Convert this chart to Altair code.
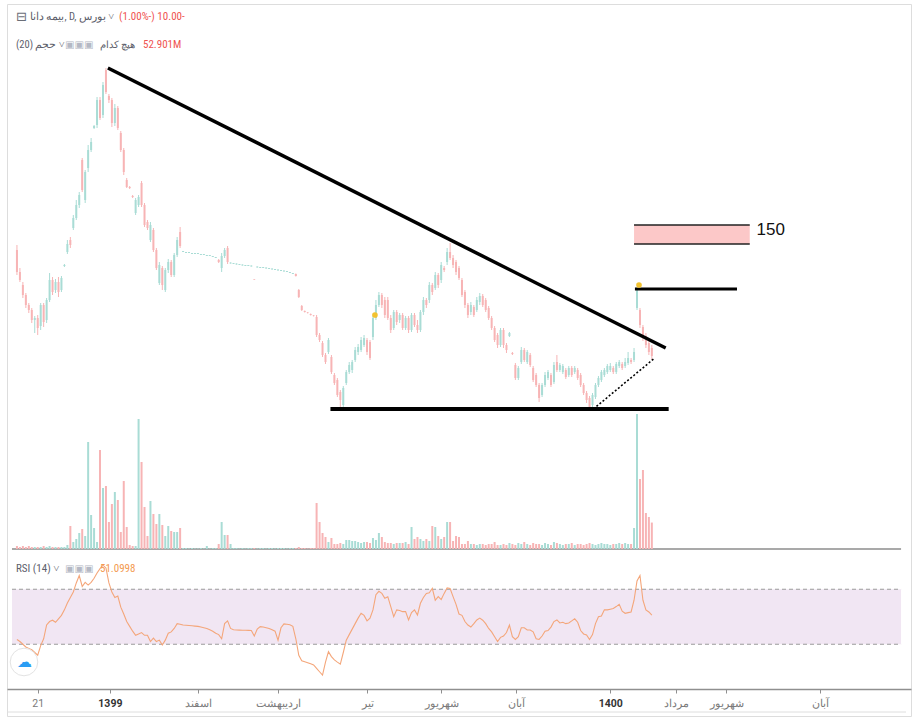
import altair as alt
import pandas as pd
import numpy as np

# ---------------- data (price units, one candle per trading day) ----------------
opens = [
    220, 198, 185, 175, 165, 160, 150, 152, 144, 165,
    150, 170, 190, 180, 188, 180, 204, 218, 230, 242,
    252, 265, 310, 270, 302, 320, 342, 345, 370, 355,
    400, 374, 370, 347, 362, 337, 320, 290, 283, 274,
    257, 265, 287, 265, 248, 230, 240, 220, 187, 202,
    180, 200, 208, 195, 215, 238, 218, 217, 217, 216,
    216, 216, 215, 215, 214, 214, 213, 212, 210, 202,
    214, 222, 206.5, 206, 205.5, 205, 204.5, 204, 204, 203.5,
    190.6, 202.5, 202, 202, 201.5, 201, 200.5, 200, 199.5, 199,
    198.5, 198, 197, 196, 196, 180, 164, 159, 157.5, 156,
    154.5, 153, 135, 127, 115, 118, 113, 95, 90, 78,
    65, 87, 98, 100, 110, 118, 120, 125, 130, 128,
    133, 152, 165, 175, 170, 170, 152, 142, 158, 150,
    155, 142, 152, 140, 155, 145, 140, 158, 170, 170,
    185, 182, 195, 190, 202, 208, 218, 212, 208, 202,
    190, 178, 165, 158, 163, 160, 168, 174, 170, 162,
    152, 142, 135, 125, 140, 125, 134, 117, 105, 92,
    108, 120, 108, 115, 102, 95, 85, 75, 85, 92,
    95, 88, 108, 100, 98, 100, 95, 102, 98, 100,
    95, 85, 77, 72, 65, 73, 85, 90, 95, 98,
    100, 102, 98, 104, 106, 104, 107, 110, 110, 162,
    160, 143, 134, 127, 122,
]
closes = [
    198, 190, 175, 165, 160, 150, 152, 142, 165, 148,
    170, 190, 178, 188, 178, 192, 205, 226, 225, 252,
    265, 275, 280, 298, 320, 328, 344, 370, 352, 385,
    378, 370, 347, 362, 342, 320, 298, 283, 282, 273,
    270, 273, 265, 245, 242, 245, 220, 202, 205, 185,
    200, 208, 195, 215, 230, 224, 219, 218, 218, 217,
    217, 217, 216, 216, 215, 215, 214, 213, 208, 214,
    220, 208, 207.5, 207, 206.5, 206, 205.5, 205, 205, 204.5,
    190, 203.5, 203, 203, 202.5, 202, 201.5, 201, 200.5, 200,
    199.5, 199, 198, 197, 194, 173, 160, 158, 157, 155,
    154, 135, 130, 115, 108, 130, 98, 87, 75, 70,
    82, 98, 105, 108, 120, 123, 130, 132, 118, 112,
    152, 165, 175, 165, 155, 152, 140, 158, 148, 155,
    142, 152, 140, 155, 145, 140, 158, 170, 165, 185,
    178, 195, 185, 205, 200, 218, 212, 205, 198, 192,
    175, 165, 155, 165, 155, 170, 174, 165, 160, 152,
    142, 130, 125, 140, 125, 120, 137, 116, 92, 102,
    120, 110, 118, 105, 90, 85, 72, 85, 95, 98,
    85, 105, 100, 105, 104, 93, 102, 95, 102, 92,
    85, 77, 70, 62, 75, 85, 92, 98, 100, 104,
    104, 98, 106, 108, 102, 108, 112, 108, 118, 180,
    145, 132, 125, 118, 114,
]
highs = [
    225, 202, 188, 177, 167, 162, 154, 155, 167, 167,
    172, 197, 193, 191, 193, 194, 206, 230, 233, 255,
    270, 278, 312, 300, 325, 332, 345, 373, 373, 388,
    402, 376, 372, 366, 364, 339, 322, 292, 284, 275,
    272, 275, 289, 267, 250, 248, 242, 222, 208, 204,
    202, 211, 210, 217, 233, 243, 219, 218, 218, 217,
    217, 217, 216, 216, 215, 215, 214, 213, 211, 217,
    222, 224, 207.5, 207, 206.5, 206, 205.5, 205, 205, 204.5,
    190.6, 203.5, 203, 203, 202.5, 202, 201.5, 201, 200.5, 200,
    199.5, 199, 198, 197, 196.5, 181, 165, 159.5, 158, 156.5,
    155, 155, 137, 129, 117, 132, 115, 97, 92, 80,
    84, 100, 108, 110, 123, 126, 133, 135, 132, 130,
    154, 170, 178, 177, 173, 173, 155, 160, 160, 157,
    157, 154, 154, 157, 157, 150, 160, 173, 172, 188,
    187, 198, 197, 208, 204, 222, 227, 215, 210, 204,
    192, 180, 167, 168, 165, 173, 177, 176, 172, 164,
    154, 144, 137, 142, 142, 127, 138, 118, 107, 104,
    123, 122, 120, 117, 104, 97, 87, 87, 98, 100,
    97, 108, 115, 107, 106, 102, 104, 104, 104, 102,
    97, 87, 79, 74, 77, 87, 94, 100, 102, 106,
    107, 104, 108, 110, 108, 112, 118, 112, 122, 182,
    162, 145, 137, 130, 125,
]
lows = [
    195, 188, 172, 162, 157, 147, 137, 135, 140, 143,
    147, 168, 175, 177, 173, 178, 203, 216, 222, 240,
    250, 262, 278, 267, 298, 318, 341, 342, 350, 352,
    376, 367, 343, 344, 340, 318, 295, 282, 281, 272,
    255, 263, 263, 243, 240, 228, 218, 200, 185, 180,
    178, 197, 193, 193, 213, 222, 218, 217, 217, 216,
    216, 216, 215, 215, 214, 214, 213, 212, 207, 198,
    212, 206, 206.5, 206, 205.5, 205, 204.5, 204, 204, 203.5,
    190, 202.5, 202, 202, 201.5, 201, 200.5, 200, 199.5, 199,
    198.5, 198, 197, 196, 193.5, 172, 159, 157.5, 156.5, 154.5,
    153.5, 133, 128, 113, 106, 116, 96, 85, 73, 62,
    61, 85, 96, 97, 108, 115, 118, 123, 115, 110,
    130, 150, 163, 162, 152, 150, 137, 140, 145, 147,
    140, 140, 137, 138, 143, 137, 138, 155, 162, 167,
    175, 180, 182, 187, 198, 205, 210, 202, 195, 190,
    173, 162, 152, 155, 153, 158, 165, 163, 158, 150,
    140, 128, 122, 123, 122, 117, 133, 115, 90, 90,
    106, 108, 106, 103, 88, 83, 68, 73, 83, 90,
    83, 86, 98, 98, 96, 91, 93, 93, 96, 90,
    83, 75, 67, 60, 60, 71, 83, 88, 93, 96,
    98, 96, 96, 102, 100, 102, 105, 106, 108, 160,
    142, 129, 122, 115, 110,
]
volumes = [  # millions
    6, 4, 6, 4, 6, 4, 4, 4, 4, 6,
    4, 6, 4, 4, 4, 4, 4, 8, 46, 14,
    20, 32, 40, 26, 214, 68, 42, 14, 198, 122,
    126, 54, 90, 114, 98, 34, 136, 44, 8, 6,
    6, 260, 174, 84, 26, 96, 70, 50, 70, 48,
    26, 46, 36, 34, 34, 42, 2, 2, 1, 2,
    1, 1, 2, 1, 6, 1, 2, 2, 10, 54,
    28, 28, 10, 2, 2, 1, 2, 1, 2, 2,
    2, 1, 2, 2, 1, 2, 2, 1, 2, 2,
    2, 1, 2, 2, 2, 4, 2, 2, 1, 2,
    2, 92, 54, 32, 24, 14, 22, 10, 10, 12,
    10, 18, 18, 16, 16, 14, 12, 14, 14, 12,
    22, 18, 32, 24, 14, 12, 12, 10, 12, 12,
    12, 14, 10, 44, 20, 24, 20, 16, 20, 16,
    46, 44, 26, 20, 24, 54, 54, 16, 26, 24,
    10, 10, 16, 10, 10, 8, 10, 10, 8, 10,
    10, 14, 8, 8, 10, 8, 12, 10, 8, 12,
    10, 14, 10, 8, 12, 10, 10, 8, 12, 10,
    8, 14, 12, 10, 8, 10, 10, 12, 8, 10,
    10, 8, 10, 12, 10, 8, 10, 12, 10, 10,
    8, 10, 10, 12, 10, 12, 10, 10, 42, 270,
    140, 158, 72, 64, 52.901,
]
rsi = [
    33.5, 32, 30, 28, 27, 26, 24, 22, 29, 34,
    44, 46.5, 47.5, 46, 48.5, 51, 55, 60, 64, 68,
    74.6, 80, 72, 75, 73, 75, 78, 81.8, 85, 87.5,
    85.5, 74.6, 68, 64, 65, 57, 52, 46.5, 43, 39.5,
    36.5, 37.5, 38.5, 36.5, 36.5, 32, 34.5, 32, 33, 29.5,
    33, 38, 39, 41.5, 45, 44.5, 44, 43.8, 43.6, 43.4,
    43.2, 43, 42.5, 42, 41.5, 40.5, 39.5, 38, 37, 34,
    45, 47, 41.5, 40.6, 40.4, 40.3, 40.2, 40.2, 40.1, 40,
    36, 41, 42.8, 42.5, 42, 41.5, 40.5, 39.5, 33, 42,
    44.8, 44.5, 44.2, 43, 34, 22, 18, 17.3, 16.6, 15.8,
    15, 12.5, 10, 7.5, 17, 24.6, 21, 18.6, 17, 15.5,
    24, 33, 37, 41, 45, 49, 52.5, 51, 47, 49,
    55, 66, 68.5, 67, 63.5, 64.6, 57.4, 50, 55, 54.5,
    53.7, 53.7, 47.7, 53, 55, 51.3, 59.8, 64, 67, 67.5,
    70.7, 62, 64.6, 62.5, 67, 71, 70.5, 64.6, 59, 52,
    51, 46.5, 44, 42.5, 45, 47.7, 49, 47.5, 45, 41.5,
    39, 35.5, 32, 35, 36, 38.5, 44, 35.5, 33.5, 35.5,
    42, 42, 40.4, 40.4, 39, 34, 33.5, 36, 39.5, 40,
    42.5, 46.5, 47.7, 45.5, 46, 45, 45.5, 47, 48.5, 46,
    40, 37.5, 36.8, 33.5, 37, 45, 50, 50.5, 55, 55,
    55.5, 56, 57.4, 59, 54, 52.5, 53, 53.5, 62, 76,
    80, 62, 55, 53.5, 51.0998,
]

tick_pos = [7, 31.33, 61, 88, 118, 143, 168.33, 200, 222, 239, 270.67]
tick_labels = ["21", "1399", "اسفند", "اردیبهشت", "تیر", "شهریور", "آبان",
               "1400", "مرداد", "شهریور", "آبان"]

# drawn analysis objects (bar index, price)
down_x, down_p = [30.67, 218.67], [402, 122]
support_x, support_p = [105.67, 219.67], [61, 61]
dotted_x, dotted_p = [194.3, 215], [61, 112]
resist_x, resist_p = [208.3, 242.7], [181, 181]
zone_x, zone_p = [208, 247], [226, 245]
dots_x, dots_p = [120.67, 209.67], [155, 185]
target_x, target_p, target_text = [249.3], [240], ["150"]
pane_x = [-1.67, 298]
rsi_levels = [30, 70]

# ---------------- build ----------------
W, H = 904, 712
n = min(len(opens), len(closes), len(highs), len(lows), len(volumes), len(rsi))
df = pd.DataFrame({
    "i": np.arange(n), "o": opens[:n], "c": closes[:n], "h": highs[:n],
    "l": lows[:n], "v": volumes[:n], "r": rsi[:n],
})
df["dir"] = np.where(df["c"] >= df["o"], "up", "down")
df["v0"] = 0

xs = alt.Scale(domain=[-5 / 3, -5 / 3 + W / 3], nice=False, zero=False)
ps = alt.Scale(domain=[466 - H, 466], nice=False, zero=False)
vs = alt.Scale(domain=[(545 - H) * 2, 545 * 2], nice=False, zero=False)
rs = alt.Scale(domain=[(681.5 - H) / 1.375, 681.5 / 1.375], nice=False, zero=False)

pos_list = ",".join(str(p) for p in tick_pos)
lab_list = ",".join("'" + t + "'" for t in tick_labels)
xaxis = alt.Axis(
    values=tick_pos,
    labelExpr=f"[{lab_list}][indexof([{pos_list}], datum.value)]",
    offset=-27, grid=False, title=None, domainColor="#8f8f8f", domainWidth=1.5,
    tickColor="#8f8f8f", tickSize=4, labelFont="Roboto", labelFontSize=10.5,
    labelPadding=5, labelOverlap=False, labelFlush=False,
    labelColor={"condition": {"test": "datum.value == 31.33 || datum.value == 200",
                              "value": "#333333"}, "value": "#7a7a7a"},
    labelFontWeight={"condition": {"test": "datum.value == 31.33 || datum.value == 200",
                                   "value": "bold"}, "value": "normal"},
)


def X(field):
    return alt.X(field, type="quantitative", scale=xs, axis=xaxis)


def Y(field, scale):
    return alt.Y(field, type="quantitative", scale=scale, axis=None)


col_c = alt.Color("dir:N", scale=alt.Scale(domain=["up", "down"], range=["#26a69a", "#ef5350"]), legend=None)
col_v = alt.Color("dir:N", scale=alt.Scale(domain=["up", "down"], range=["#a9dcd5", "#f7b4b5"]), legend=None)

pane = pd.DataFrame({"x0": [pane_x[0]], "x1": [pane_x[1]], "r0": [rsi_levels[0]], "r1": [rsi_levels[1]], "v0": [0]})

band = alt.Chart(pane).mark_rect(color="#f1e6f3").encode(
    x=X("x0"), x2="x1", y=Y("r0", rs), y2="r1")
lv = pd.DataFrame({"x0": [pane_x[0]] * 2, "x1": [pane_x[1]] * 2, "r": rsi_levels})
levels = alt.Chart(lv).mark_rule(color="#9a9a9a", strokeDash=[4, 3], strokeWidth=1).encode(
    x=X("x0"), x2="x1", y=Y("r", rs))
rsi_line = alt.Chart(df).mark_line(color="#f4a67a", strokeWidth=1.1).encode(
    x=X("i"), y=Y("r", rs))
sep = alt.Chart(pane).mark_rule(color="#a9a9a9", strokeWidth=2).encode(
    x=X("x0"), x2="x1", y=Y("v0", vs))
bottom_line = alt.Chart(pane).mark_rule(color="#dedede", strokeWidth=1).encode(
    x=alt.value(0), x2=alt.value(899), y=alt.value(708))

vol = alt.Chart(df).mark_bar(width=2).encode(
    x=X("i"), y=Y("v", vs), y2="v0", color=col_v)
wick = alt.Chart(df).mark_rule(strokeWidth=1).encode(
    x=X("i"), y=Y("h", ps), y2="l", color=col_c)
body = alt.Chart(df).mark_bar(width=2).encode(
    x=X("i"), y=Y("o", ps), y2="c", color=col_c)


def seg(xv, pv, width, dash=None):
    d = pd.DataFrame({"x": xv, "p": pv})
    kw = dict(color="black", strokeWidth=width)
    if dash:
        kw["strokeDash"] = dash
    return alt.Chart(d).mark_line(**kw).encode(x=X("x"), y=Y("p", ps))


down = seg(down_x, down_p, 3.5)
support = seg(support_x, support_p, 4)
dotted = seg(dotted_x, dotted_p, 1.6, [2, 2])
resist = seg(resist_x, resist_p, 3)

zdf = pd.DataFrame({"x0": [zone_x[0]], "x1": [zone_x[1]], "p0": [zone_p[0]], "p1": [zone_p[1]]})
zone = alt.Chart(zdf).mark_rect(color="#fcc8c8").encode(
    x=X("x0"), x2="x1", y=Y("p0", ps), y2="p1")
zl = pd.DataFrame({"x0": [zone_x[0]] * 2, "x1": [zone_x[1]] * 2, "p": zone_p})
zone_lines = alt.Chart(zl).mark_rule(color="#222222", strokeWidth=1.6).encode(
    x=X("x0"), x2="x1", y=Y("p", ps))
tdf = pd.DataFrame({"x": target_x, "p": target_p, "t": target_text})
target = alt.Chart(tdf).mark_text(align="left", baseline="middle", fontSize=17,
                                  font="Liberation Sans", color="#111111").encode(
    x=X("x"), y=Y("p", ps), text="t:N")
ddf = pd.DataFrame({"x": dots_x, "p": dots_p})
dots = alt.Chart(ddf).mark_circle(size=32, color="#f2c230", opacity=1).encode(
    x=X("x"), y=Y("p", ps))

NARROW = "Liberation Sans Narrow, Roboto Condensed, Roboto"


def label(text, x, y, color, size=11, weight="normal", font=NARROW):
    d = pd.DataFrame({"t": [text]})
    return alt.Chart(d).mark_text(align="left", baseline="middle", color=color,
                                  fontSize=size, fontWeight=weight, font=font).encode(
        x=alt.value(x), y=alt.value(y), text="t:N")


headers = [
    label("⊟", 9, 13, "#6b6e78", 13, font="DejaVu Sans"),
    label("بیمه دانا, D, بورس ˅", 23, 13, "#5d606b", 10.5),
    label("(1.00%-) 10.00-", 112, 13, "#ef5350", 11),
    label("(20) حجم ˅", 9, 41, "#5d606b", 10.5),
    label("▣▣▣", 58, 41, "#b4b8c4", 10, font="DejaVu Sans"),
    label("هیچ کدام", 93, 41, "#5d606b", 10),
    label("52.901M", 136, 41, "#ef5350", 11),
    label("RSI (14) ˅", 9, 565, "#5d606b", 11),
    label("▣▣▣", 58, 565, "#b4b8c4", 10, font="DejaVu Sans"),
    label("51.0998", 93, 565, "#f39a50", 11),
]

logo_df = pd.DataFrame({"t": ["☁"]})
logo_circle = alt.Chart(logo_df).mark_circle(size=760, fill="white", stroke="#e3e3e3",
                                             strokeWidth=1, opacity=1).encode(
    x=alt.value(17), y=alt.value(658))
logo_text = alt.Chart(logo_df).mark_text(fontSize=15, color="#2a9df4", align="center",
                                         baseline="middle").encode(
    x=alt.value(17), y=alt.value(658), text="t:N")

chart = alt.layer(
    band, levels, rsi_line, sep, bottom_line, vol, wick, body,
    zone, zone_lines, down, support, dotted, resist, dots, target,
    *headers, logo_circle, logo_text,
).resolve_scale(y="independent").properties(
    width=W, height=H, autosize="none",
    padding={"left": 7, "top": 4, "right": 7, "bottom": 12},
).configure_view(stroke="#4a6fb5", strokeWidth=3).configure(background="white")

chart.save("out.html", embed_options={"renderer": "svg", "actions": False})
